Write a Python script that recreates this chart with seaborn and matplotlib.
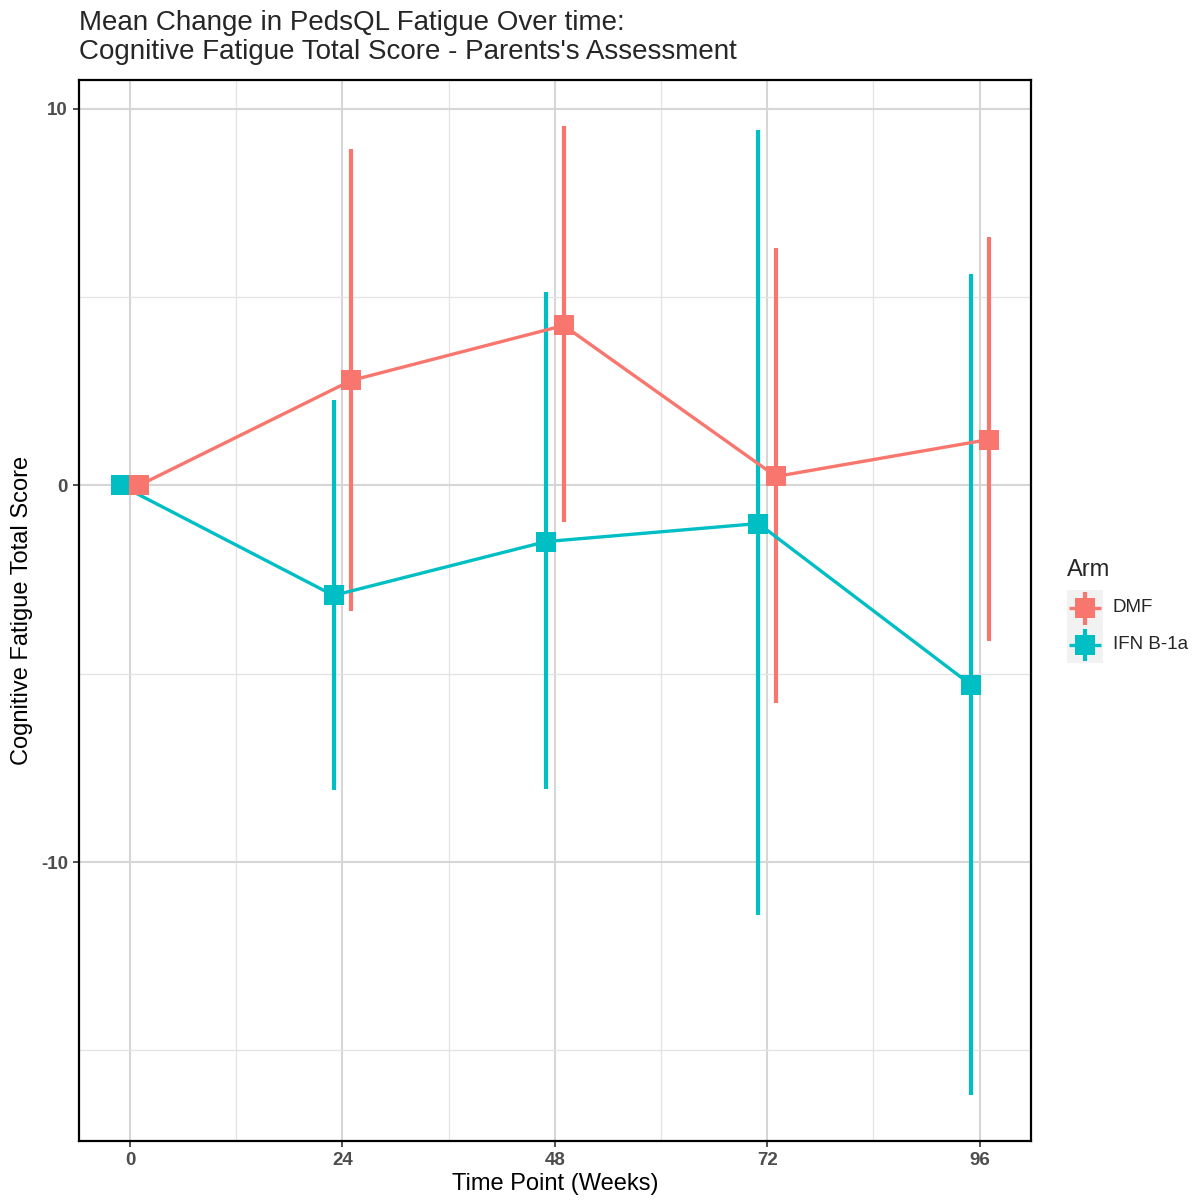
import matplotlib
matplotlib.use("Agg")
import matplotlib.pyplot as plt
import seaborn as sns
import pandas as pd
import numpy as np
from matplotlib.patches import Rectangle
from matplotlib.ticker import MultipleLocator

weeks = [0, 24, 48, 72, 96]
arms = ["DMF", "IFN B-1a"]
dmf_mean = [0.0, 2.79, 4.25, 0.24, 1.22]
dmf_lower = [0.0, -3.32, -0.96, -5.79, -4.12]
dmf_upper = [0.0, 8.95, 9.54, 6.32, 6.61]
ifn_mean = [0.0, -2.92, -1.49, -1.01, -5.29]
ifn_lower = [0.0, -8.10, -8.07, -11.42, -16.18]
ifn_upper = [0.0, 2.28, 5.15, 9.43, 5.63]

colors = {"DMF": "#F8766D", "IFN B-1a": "#00BFC4"}
dodge = {"DMF": 1.0, "IFN B-1a": -1.0}

rows = []
for arm, m, lo, hi in [("DMF", dmf_mean, dmf_lower, dmf_upper),
                       ("IFN B-1a", ifn_mean, ifn_lower, ifn_upper)]:
    for w, mm, l, h in zip(weeks, m, lo, hi):
        rows.append({"Arm": arm, "Week": w, "xpos": w + dodge[arm],
                     "mean": mm, "lower": l, "upper": h})
df = pd.DataFrame(rows)

sns.set_theme(style="white")
plt.rcParams["font.family"] = ["Liberation Sans", "DejaVu Sans"]

W, H = 1197, 1201
fig = plt.figure(figsize=(W/100, H/100), dpi=100)
ax = fig.add_axes([79/W, 60/H, (1031-79)/W, (1141-80)/H])

# error bars
for arm in arms:
    sub = df[(df["Arm"] == arm) & (df["Week"] > 0)]
    ax.vlines(sub["xpos"], sub["lower"], sub["upper"], color=colors[arm],
              lw=3.0, zorder=3)

sns.lineplot(data=df, x="xpos", y="mean", hue="Arm", palette=colors,
             hue_order=["IFN B-1a", "DMF"], marker="s", markersize=15,
             markeredgewidth=0, linewidth=2.4, ax=ax, legend=False,
             zorder=4, sort=True, estimator=None)

ax.set_xlim(-5.76, 101.8)
ax.set_ylim(-17.41, 10.77)
ax.set_xticks(weeks)
ax.xaxis.set_minor_locator(MultipleLocator(12))
ax.set_yticks([-10, 0, 10])
ax.set_yticklabels(["-10", "0", "10"])
ax.yaxis.set_minor_locator(MultipleLocator(5))
ax.grid(True, which="major", color="#d6d6d6", lw=1.5)
ax.grid(True, which="minor", color="#e3e3e3", lw=0.9)
ax.set_axisbelow(True)
for s in ax.spines.values():
    s.set_color("black")
    s.set_linewidth(1.6)
ax.tick_params(axis="both", which="major", length=4, width=1.2, color="#333333",
               labelsize=13.5, labelcolor="#4d4d4d", pad=4, left=True, bottom=True)
ax.tick_params(axis="both", which="minor", length=0)
for lab in ax.get_xticklabels() + ax.get_yticklabels():
    lab.set_fontweight("bold")

ax.set_xlabel("Time Point (Weeks)", fontsize=17, color="black", labelpad=3)
ax.set_ylabel("Cognitive Fatigue Total Score", fontsize=17, color="black", labelpad=6)

fig.text(79/W, 1 - 10/H,
         "Mean Change in PedsQL Fatigue Over time:\nCognitive Fatigue Total Score - Parents's Assessment",
         ha="left", va="top", fontsize=20, linespacing=1.13)

# legend drawn in pixel-based figure axes
lax = fig.add_axes([0, 0, 1, 1], facecolor="none")
lax.set_xlim(0, W)
lax.set_ylim(H, 0)
lax.axis("off")
lax.text(1067, 570, "Arm", fontsize=17, ha="left", va="center")
for i, arm in enumerate(arms):
    c = colors[arm]
    y0 = 590 + i * 36.5
    cy = y0 + 18
    cx = 1085
    lax.add_patch(Rectangle((1067, y0), 36, 36.5, facecolor="#f2f2f2", edgecolor="none"))
    lax.plot([1069, 1101], [cy, cy], color=c, lw=2.4, solid_capstyle="butt")
    lax.plot([cx, cx], [y0 + 2, y0 + 34.5], color=c, lw=3.0, solid_capstyle="butt")
    lax.plot([cx], [cy], marker="s", markersize=15, color=c, mew=0)
    lax.text(1113, cy, arm, fontsize=13.5, ha="left", va="center")

fig.savefig("out.png", dpi=100, facecolor="white")
